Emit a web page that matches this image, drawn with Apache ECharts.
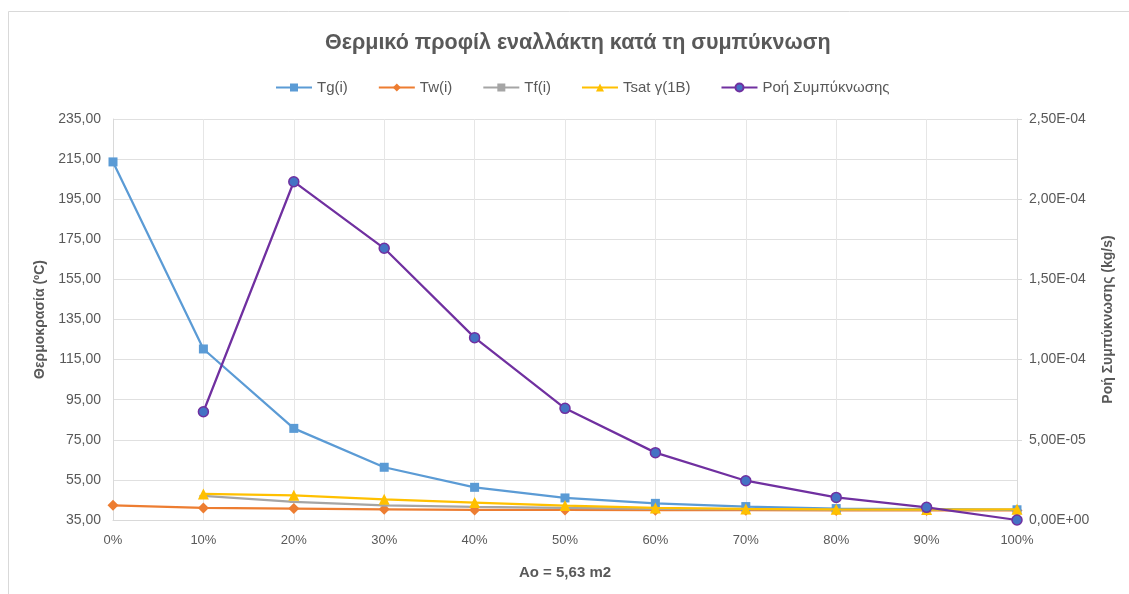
<!DOCTYPE html>
<html>
<head>
<meta charset="utf-8">
<script src="https://cdn.jsdelivr.net/npm/echarts@6/dist/echarts.min.js"></script>
<style>html,body{margin:0;padding:0;background:#fff}#c{width:1129px;height:594px}</style>
</head>
<body>
<div id="c"></div>
<script>
const categories = ['0%','10%','20%','30%','40%','50%','60%','70%','80%','90%','100%'];
const tg   = [213.6, 120.3, 80.7, 61.3, 51.3, 46.0, 43.3, 41.7, 40.7, 40.4, 40.1];
const tw   = [42.3, 41.0, 40.7, 40.3, 40.0, 40.0, 39.9, 39.9, 39.8, 39.8, 39.8];
const tf   = [null, 47.0, 44.0, 42.3, 41.5, 41.0, 40.6, 40.4, 40.2, 40.1, 40.0];
const tsat = [null, 48.0, 47.3, 45.3, 43.7, 42.2, 41.0, 40.5, 40.3, 40.2, 40.3];
const flow = [null, 6.75e-5, 2.109e-4, 1.694e-4, 1.137e-4, 6.96e-5, 4.2e-5, 2.45e-5, 1.41e-5, 7.9e-6, 0];
const seriesNames = ['Tg(i)', 'Tw(i)', 'Tf(i)', 'Tsat γ(1Β)', 'Ροή Συμπύκνωσης'];

const FONT = '"Liberation Sans", "Noto Sans", sans-serif';
const TXT = '#595959';

function fmtLeft(v){ return v.toFixed(2).replace('.', ','); }
function fmtRight(v){
  if (v === 0) return '0,00E+00';
  const e = Math.floor(Math.log10(Math.abs(v)) + 1e-9);
  const m = v / Math.pow(10, e);
  const es = (e < 0 ? '-' : '+') + String(Math.abs(e)).padStart(2, '0');
  return m.toFixed(2).replace('.', ',') + 'E' + es;
}

const chart = echarts.init(document.getElementById('c'), null, {renderer: 'canvas'});
chart.setOption({
  animation: false,
  backgroundColor: '#fff',
  textStyle: {fontFamily: FONT},
  graphic: [{
    type: 'rect', shape: {x: 8.5, y: 11.5, width: 1140, height: 600},
    style: {fill: 'none', stroke: '#d9d9d9', lineWidth: 1}, silent: true, z: -1
  }],
  title: {
    text: 'Θερμικό προφίλ εναλλάκτη κατά τη συμπύκνωση',
    left: 320, top: 27,
    textStyle: {fontFamily: FONT, fontSize: 21.5, fontWeight: 'bold', color: TXT}
  },
  legend: {
    top: 75, left: 270, itemGap: 30, itemWidth: 36, itemHeight: 10,
    textStyle: {fontFamily: FONT, fontSize: 15, color: TXT},
    data: seriesNames
  },
  grid: {left: 113, right: 112, top: 119, bottom: 74, containLabel: false},
  xAxis: {
    type: 'category', data: categories, boundaryGap: false,
    name: 'Ao = 5,63 m2', nameLocation: 'middle', nameGap: 45,
    nameTextStyle: {fontFamily: FONT, fontSize: 15, fontWeight: 'bold', color: TXT},
    axisLine: {lineStyle: {color: '#d9d9d9', width: 1}},
    axisTick: {show: false},
    axisLabel: {color: TXT, fontSize: 13, margin: 14, fontFamily: FONT},
    splitLine: {show: true, lineStyle: {color: '#e6e6e6', width: 1}}
  },
  yAxis: [{
    type: 'value', min: 35, max: 235, interval: 20,
    name: 'Θερμοκρασία (ºC)', nameLocation: 'middle', nameGap: 66, nameRotate: 90,
    nameTextStyle: {fontFamily: FONT, fontSize: 14, fontWeight: 'bold', color: TXT},
    axisLine: {show: true, lineStyle: {color: '#d9d9d9'}},
    axisTick: {show: false},
    axisLabel: {color: TXT, fontSize: 14, margin: 12, formatter: fmtLeft, fontFamily: FONT},
    splitLine: {show: true, lineStyle: {color: '#e0e0e0', width: 1}}
  }, {
    type: 'value', min: 0, max: 2.5e-4, interval: 5e-5, position: 'right',
    name: 'Ροή Συμπύκνωσης (kg/s)', nameLocation: 'middle', nameGap: 84, nameRotate: 90,
    nameTextStyle: {fontFamily: FONT, fontSize: 14, fontWeight: 'bold', color: TXT},
    axisLine: {show: true, lineStyle: {color: '#d9d9d9'}},
    axisTick: {show: true, length: 5, lineStyle: {color: '#d9d9d9'}},
    axisLabel: {color: TXT, fontSize: 14, margin: 12, formatter: fmtRight, fontFamily: FONT},
    splitLine: {show: false}
  }],
  series: [{
    name: seriesNames[0], type: 'line', data: tg, yAxisIndex: 0,
    symbol: 'rect', symbolSize: 9, color: '#5B9BD5',
    lineStyle: {width: 2.25, color: '#5B9BD5'}, itemStyle: {color: '#5B9BD5'}, z: 4
  }, {
    name: seriesNames[1], type: 'line', data: tw, yAxisIndex: 0,
    symbol: 'diamond', symbolSize: 11, color: '#ED7D31',
    lineStyle: {width: 2.25, color: '#ED7D31'}, itemStyle: {color: '#ED7D31'}, z: 2
  }, {
    name: seriesNames[2], type: 'line', data: tf, yAxisIndex: 0,
    symbol: 'rect', symbolSize: [8, 2], color: '#A5A5A5',
    lineStyle: {width: 2.25, color: '#A5A5A5'}, itemStyle: {color: '#A5A5A5'}, z: 3
  }, {
    name: seriesNames[3], type: 'line', data: tsat, yAxisIndex: 0,
    symbol: 'triangle', symbolSize: 11, color: '#FFC000',
    lineStyle: {width: 2.25, color: '#FFC000'}, itemStyle: {color: '#FFC000'}, z: 5
  }, {
    name: seriesNames[4], type: 'line', data: flow, yAxisIndex: 1,
    symbol: 'circle', symbolSize: 10, color: '#7030A0',
    lineStyle: {width: 2.25, color: '#7030A0'},
    itemStyle: {color: '#4472C4', borderColor: '#7030A0', borderWidth: 1.5}, z: 6
  }]
});
</script>
</body>
</html>
